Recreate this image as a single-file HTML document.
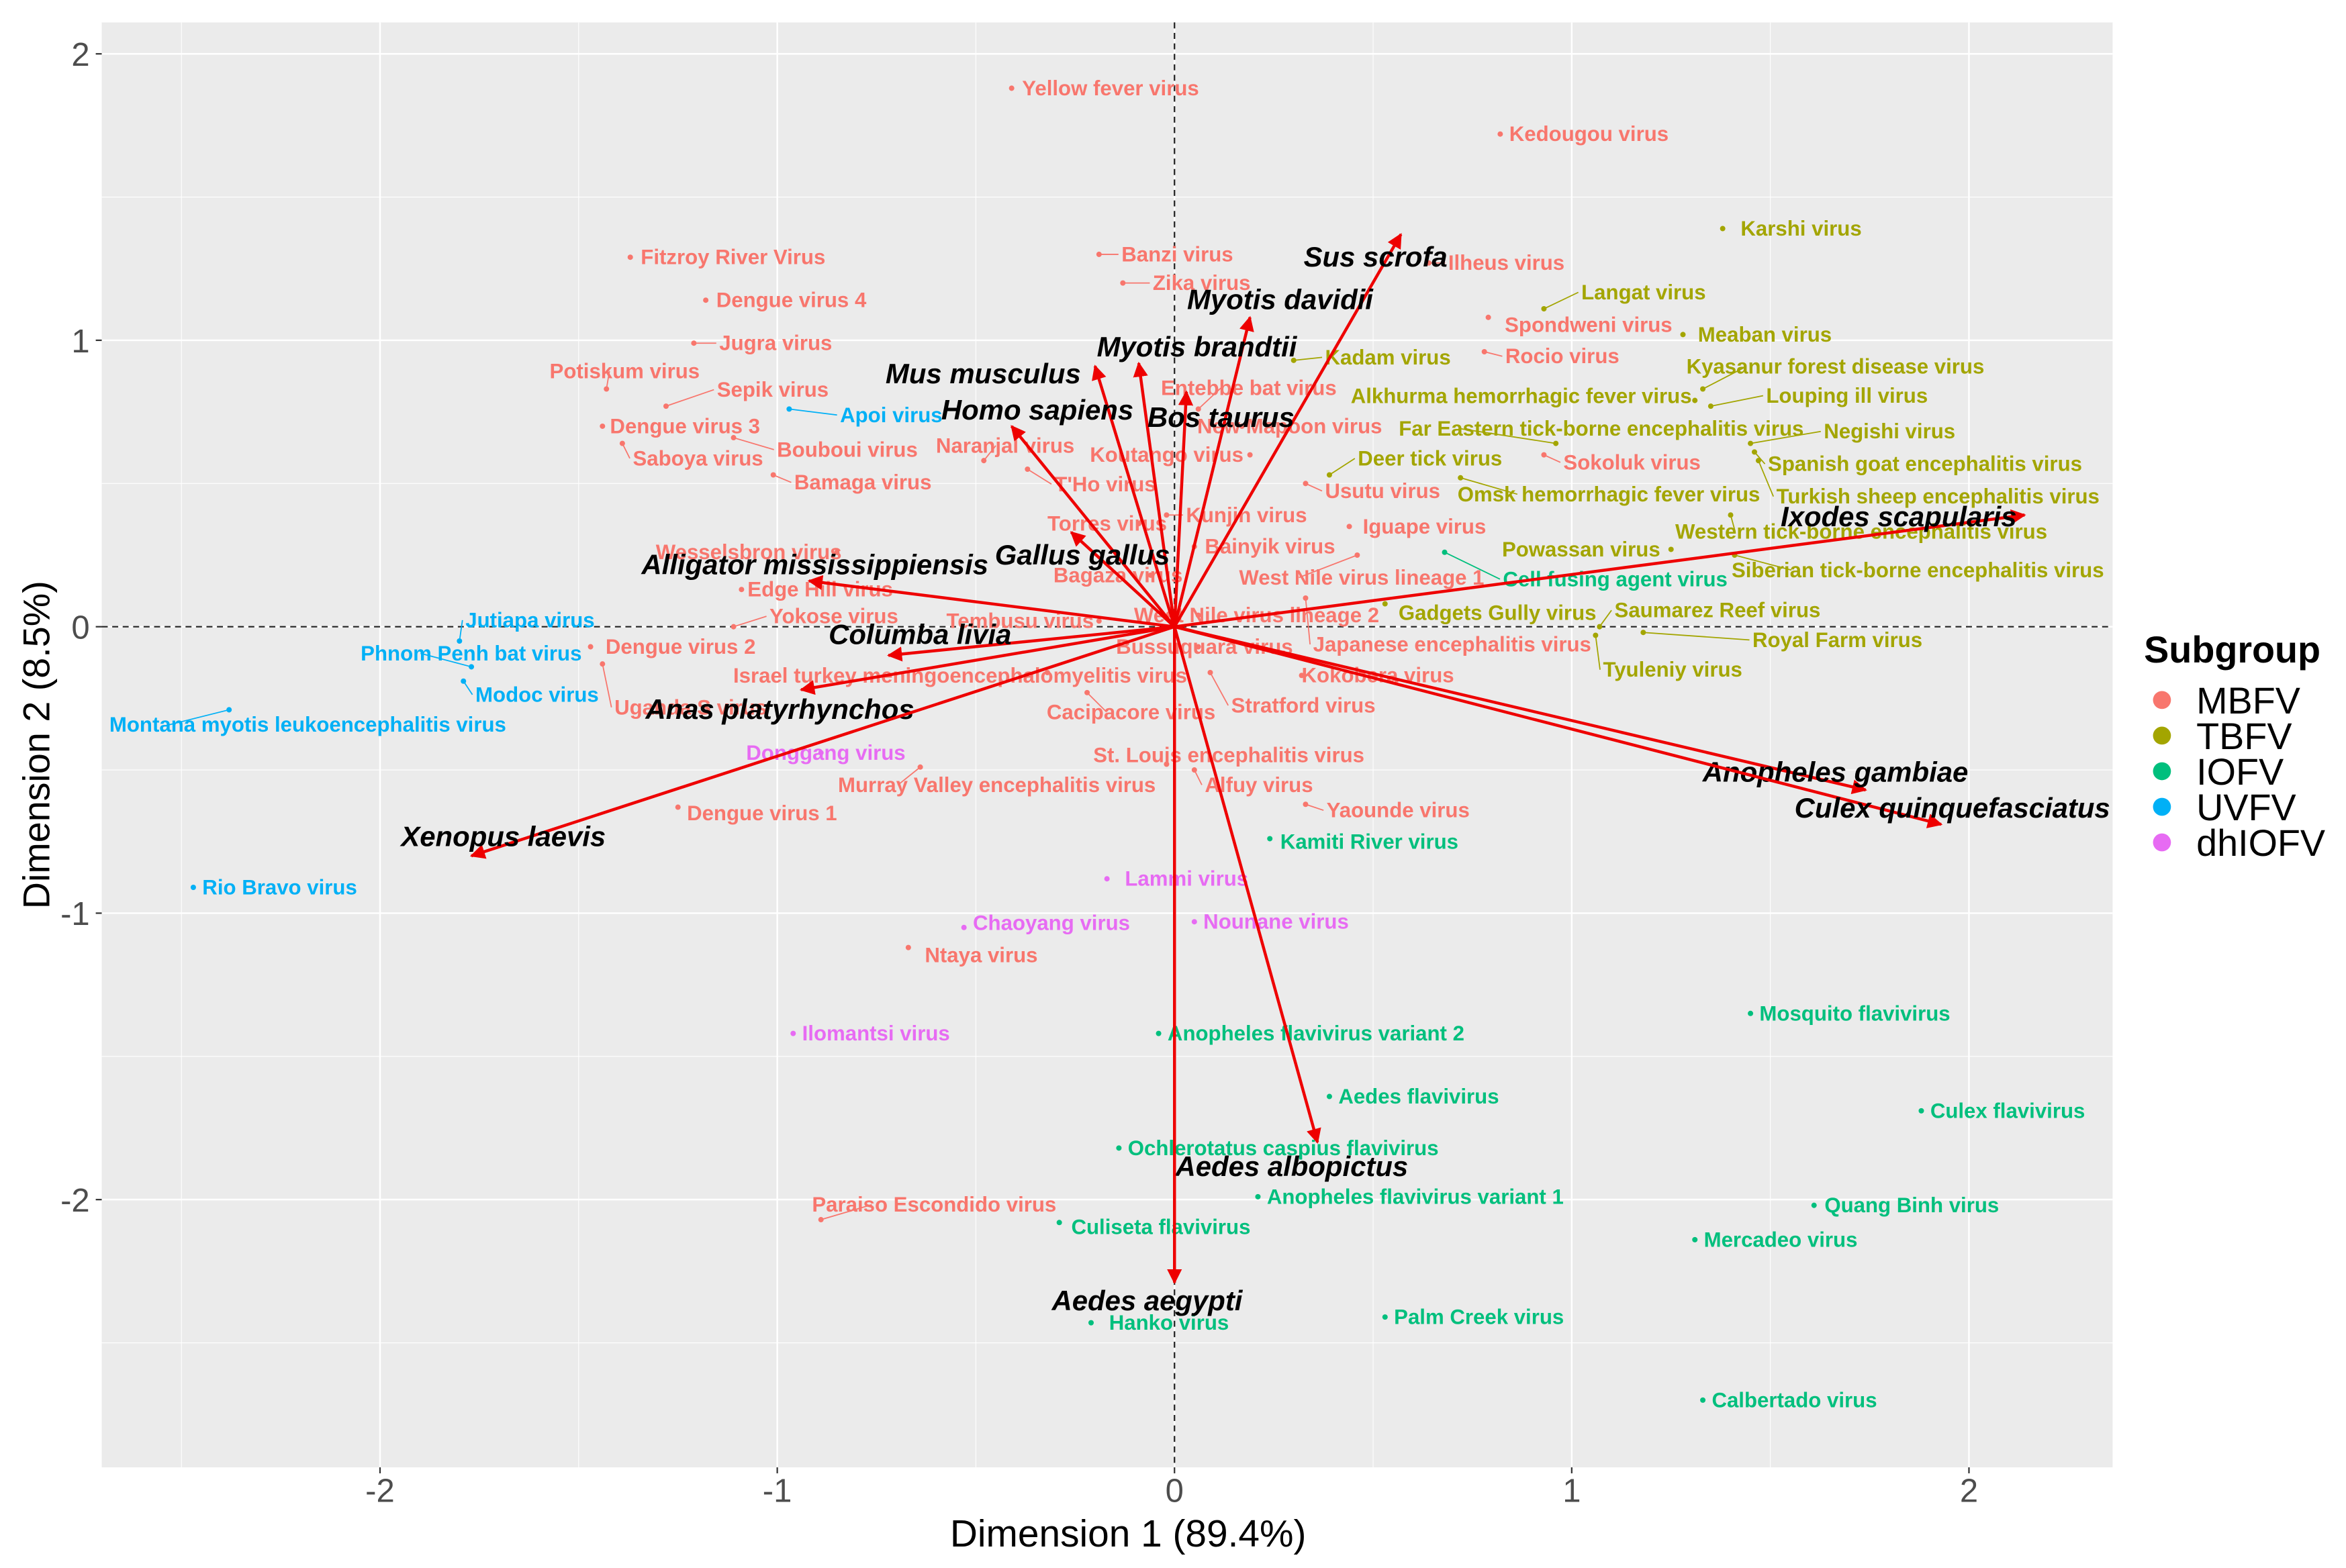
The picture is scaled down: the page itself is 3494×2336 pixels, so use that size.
<!DOCTYPE html>
<html><head><meta charset="utf-8"><style>
html,body{margin:0;padding:0;background:#fff;}
svg{display:block;font-family:"Liberation Sans",Arial,sans-serif;}
</style></head><body>
<svg id="chart" width="3494" height="2336" viewBox="0 0 1568 1048.3" preserveAspectRatio="none" xmlns="http://www.w3.org/2000/svg">
<defs><marker id="ah" viewBox="0 0 10 10" refX="9" refY="5" markerWidth="5" markerHeight="5" orient="auto-start-reverse"><path d="M0,0 L10,5 L0,10 z" fill="#ee0000"/></marker></defs>
<rect x="68" y="15" width="1344" height="966" fill="#ebebeb"/>
<g id="grid"></g><g id="refl"></g><g id="pts"></g><g id="arrows"></g><g id="axes"></g><g id="legend"></g>
</svg>
<script>
const xTicks=[-2,-1,0,1,2];
const yTicks=[-2,-1,0,1,2];
const groups=["MBFV","TBFV","IOFV","UVFV","dhIOFV"];
const groupColors=["#F8766D","#A3A500","#00BF7D","#00B0F6","#E76BF3"];
const virusNames=["Yellow fever virus","Kedougou virus","Fitzroy River Virus","Banzi virus","Zika virus","Ilheus virus","Dengue virus 4","Jugra virus","Spondweni virus","Rocio virus","Potiskum virus","Sepik virus","Dengue virus 3","Bouboui virus","Saboya virus","Bamaga virus","Naranjal virus","Entebbe bat virus","Koutango virus","T'Ho virus","New Mapoon virus","Usutu virus","Sokoluk virus","Kunjin virus","Iguape virus","Torres virus","Bainyik virus","Wesselsbron virus","Bagaza virus","West Nile virus lineage 1","Edge Hill virus","Yokose virus","Tembusu virus","West Nile virus lineage 2","Dengue virus 2","Bussuquara virus","Japanese encephalitis virus","Israel turkey meningoencephalomyelitis virus","Kokobera virus","Uganda S virus","Cacipacore virus","Stratford virus","St. Louis encephalitis virus","Murray Valley encephalitis virus","Alfuy virus","Yaounde virus","Dengue virus 1","Ntaya virus","Paraiso Escondido virus",
"Karshi virus","Langat virus","Meaban virus","Kadam virus","Kyasanur forest disease virus","Alkhurma hemorrhagic fever virus","Louping ill virus","Far Eastern tick-borne encephalitis virus","Negishi virus","Deer tick virus","Spanish goat encephalitis virus","Omsk hemorrhagic fever virus","Turkish sheep encephalitis virus","Western tick-borne encephalitis virus","Powassan virus","Siberian tick-borne encephalitis virus","Gadgets Gully virus","Saumarez Reef virus","Royal Farm virus","Tyuleniy virus",
"Cell fusing agent virus","Kamiti River virus","Mosquito flavivirus","Anopheles flavivirus variant 2","Culex flavivirus","Aedes flavivirus","Ochlerotatus caspius flavivirus","Anopheles flavivirus variant 1","Quang Binh virus","Culiseta flavivirus","Mercadeo virus","Palm Creek virus","Hanko virus","Calbertado virus",
"Apoi virus","Jutiapa virus","Phnom Penh bat virus","Modoc virus","Montana myotis leukoencephalitis virus","Rio Bravo virus",
"Donggang virus","Lammi virus","Chaoyang virus","Nounane virus","Ilomantsi virus"];
const virusGroup=[0,0,0,0,0,0,0,0,0,0,0,0,0,0,0,0,0,0,0,0,0,0,0,0,0,0,0,0,0,0,0,0,0,0,0,0,0,0,0,0,0,0,0,0,0,0,0,0,0,
1,1,1,1,1,1,1,1,1,1,1,1,1,1,1,1,1,1,1,1,
2,2,2,2,2,2,2,2,2,2,2,2,2,2,
3,3,3,3,3,3,
4,4,4,4,4];
const dim1=[-0.41,0.82,-1.37,-0.19,-0.13,0.64,-1.18,-1.21,0.79,0.78,-1.43,-1.28,-1.44,-1.11,-1.39,-1.01,-0.48,0.06,0.19,-0.37,0.17,0.33,0.93,-0.02,0.44,-0.09,0.05,-0.85,-0.06,0.46,-1.09,-1.11,-0.19,0.06,-1.47,0.06,0.33,-0.32,0.32,-1.44,-0.22,0.09,-0.02,-0.64,0.05,0.33,-1.25,-0.67,-0.89,
1.38,0.93,1.28,0.30,1.33,1.31,1.35,0.96,1.45,0.39,1.46,0.72,1.47,1.40,1.25,1.41,0.53,1.07,1.18,1.06,
0.68,0.24,1.45,-0.04,1.88,0.39,-0.14,0.21,1.61,-0.29,1.31,0.53,-0.21,1.33,
-0.97,-1.80,-1.77,-1.79,-2.38,-2.47,
-0.89,-0.17,-0.53,0.05,-0.96];
const dim2=[1.88,1.72,1.29,1.30,1.20,1.27,1.14,0.99,1.08,0.96,0.83,0.77,0.70,0.66,0.64,0.53,0.58,0.76,0.60,0.55,0.70,0.50,0.60,0.39,0.35,0.36,0.28,0.26,0.18,0.25,0.13,0.0,0.02,0.04,-0.07,-0.07,0.10,-0.16,-0.17,-0.13,-0.23,-0.16,-0.48,-0.49,-0.50,-0.62,-0.63,-1.12,-2.07,
1.39,1.11,1.02,0.93,0.83,0.79,0.77,0.64,0.64,0.53,0.61,0.52,0.58,0.39,0.27,0.25,0.08,0.0,-0.02,-0.03,
0.26,-0.74,-1.35,-1.42,-1.69,-1.64,-1.82,-1.99,-2.02,-2.08,-2.14,-2.41,-2.43,-2.70,
0.76,-0.05,-0.14,-0.19,-0.29,-0.91,
-0.44,-0.88,-1.05,-1.03,-1.42];
const labDx=[7,6,7,15,20,13,7,17,11,14,-38,34,5,29,7,14,-32,-25,-107,18,-30,13,13,13,9,-61,7,-121,-65,-79,4,24,-102,-43,10,-55,5,-210,0,8,-27,14,-49,-55,7,14,6,11,-6,
12,25,10,21,-11,-230,37,-105,49,19,9,-2,12,-37,-113,-2,9,10,73,5,
39,7,6,6,6,6,6,6,7,8,6,6,12,6,
34,4,-74,8,-80,6,
-50,12,6,6,6];
const labDy=[0,0,0,0,0,0,0,0,5,3,-12,-11,0,8,10,5,-10,-14,0,10,0,5,5,0,0,0,0,0,0,15,0,-7,0,0,0,0,31,2,0,29,13,22,-6,12,10,4,4,5,-10,
0,-11,0,-2,-15,-3,-7,-10,-8,-11,8,11,24,11,0,10,6,-11,5,23,
18,2,0,0,0,0,0,0,0,3,0,0,0,0,
4,-14,-9,9,10,0,
0,0,-3,0,0];
const hostNames=["Sus scrofa","Myotis davidii","Myotis brandtii","Mus musculus","Homo sapiens","Bos taurus","Gallus gallus","Alligator mississippiensis","Columba livia","Anas platyrhynchos","Xenopus laevis","Ixodes scapularis","Anopheles gambiae","Culex quinquefasciatus","Aedes albopictus","Aedes aegypti"];
const hostD1=[0.57,0.19,-0.09,-0.20,-0.41,0.03,-0.26,-0.92,-0.72,-0.94,-1.77,2.14,1.74,1.93,0.36,0.0];
const hostD2=[1.37,1.08,0.92,0.91,0.70,0.82,0.33,0.16,-0.10,-0.22,-0.80,0.39,-0.57,-0.69,-1.80,-2.29];
const hostDx=[-65,-42,-28,-140,-47,-26,-51,-112,-40,-104,-47,-163,-109,-98,-95,-82];
const hostDy=[15,-12,-11,5,-11,17,15,-11,-14,13,-13,1,-12,-11,16,12];

const NS="http://www.w3.org/2000/svg";
const X=v=>785+v*265.5, Y=v=>419-v*191.5;
function mk(tag,parent,attrs){const e=document.createElementNS(NS,tag);for(const k in attrs)e.setAttribute(k,attrs[k]);parent.appendChild(e);return e;}
const grid=document.getElementById('grid');
for(let v=-2.5;v<=2.01;v+=0.5){const major=Math.abs(v-Math.round(v))<1e-9;
 const l=mk('line',grid,{x1:X(v),x2:X(v),y1:15,y2:981,stroke:'#fff','stroke-width':major?1.1:0.5});
 
 }
for(let v=-3;v<=2.51;v+=0.5){const y=Y(v);if(y<15||y>981)continue;const major=Math.abs(v-Math.round(v))<1e-9;
 const l=mk('line',grid,{x1:68,x2:1412,y1:y,y2:y,stroke:'#fff','stroke-width':major?1.1:0.5});
 
 }
const refl=document.getElementById('refl');
let r1=mk('line',refl,{x1:X(0),x2:X(0),y1:15,y2:981,stroke:'#222','stroke-width':1,'stroke-dasharray':'4,3'});


let r2=mk('line',refl,{x1:68,x2:1412,y1:Y(0),y2:Y(0),stroke:'#222','stroke-width':1,'stroke-dasharray':'4,3'});



const pts=document.getElementById('pts');
for(let i=0;i<virusNames.length;i++){
 const c=groupColors[virusGroup[i]],px=X(dim1[i]),py=Y(dim2[i]);
 const g=mk('g',pts,{});
 
 
 mk('circle',g,{cx:px,cy:py,r:1.8,fill:c});
 const t=mk('text',g,{x:px+labDx[i],y:py+labDy[i],'font-size':14,'font-weight':'bold',fill:c,'dominant-baseline':'central'});
 t.textContent=virusNames[i];
 if(Math.abs(labDy[i])>6||labDx[i]>12){mk('line',g,{x1:px,y1:py,x2:px+(labDx[i]>0?labDx[i]-2:labDx[i]+40),y2:py+labDy[i],stroke:c,'stroke-width':0.8});}
}
const arr=document.getElementById('arrows');
for(let i=0;i<hostNames.length;i++){
 const ex=X(hostD1[i]),ey=Y(hostD2[i]);
 const g=mk('g',arr,{});
 
 
 mk('line',g,{x1:X(0),y1:Y(0),x2:ex,y2:ey,stroke:'#ee0000','stroke-width':2,'marker-end':'url(#ah)'});
 const t=mk('text',g,{x:ex+hostDx[i],y:ey+hostDy[i],'font-size':18.8,'font-weight':'bold','font-style':'italic',fill:'#000','dominant-baseline':'central'});
 t.textContent=hostNames[i];
}
const ax=document.getElementById('axes');
xTicks.forEach(v=>{mk('line',ax,{x1:X(v),x2:X(v),y1:981,y2:985,stroke:'#333','stroke-width':1});
 const t=mk('text',ax,{x:X(v),y:1004,'font-size':22,fill:'#4d4d4d','text-anchor':'middle'});t.textContent=v;
 
 });
yTicks.forEach(v=>{mk('line',ax,{x1:64,x2:68,y1:Y(v),y2:Y(v),stroke:'#333','stroke-width':1});
 const t=mk('text',ax,{x:60,y:Y(v)+8,'font-size':22,fill:'#4d4d4d','text-anchor':'end'});t.textContent=v;
 
 });
let xt=mk('text',ax,{x:754,y:1034,'font-size':25.5,fill:'#000','text-anchor':'middle'});xt.textContent='Dimension 1 (89.4%)';


let yt=mk('text',ax,{x:33,y:498,'font-size':25,fill:'#000','text-anchor':'middle',transform:'rotate(-90 33 498)'});yt.textContent='Dimension 2 (8.5%)';


const lg=document.getElementById('legend');
let lt=mk('text',lg,{x:1433,y:443,'font-size':25,'font-weight':'bold',fill:'#000'});lt.textContent='Subgroup';


groups.forEach((gname,i)=>{const y=468+i*23.8;const g=mk('g',lg,{});
 
 
 mk('circle',g,{cx:1445,cy:y,r:6,fill:groupColors[i]});
 const t=mk('text',g,{x:1468,y:y+9,'font-size':25,fill:'#000'});t.textContent=gname;});
</script>
</body></html>
